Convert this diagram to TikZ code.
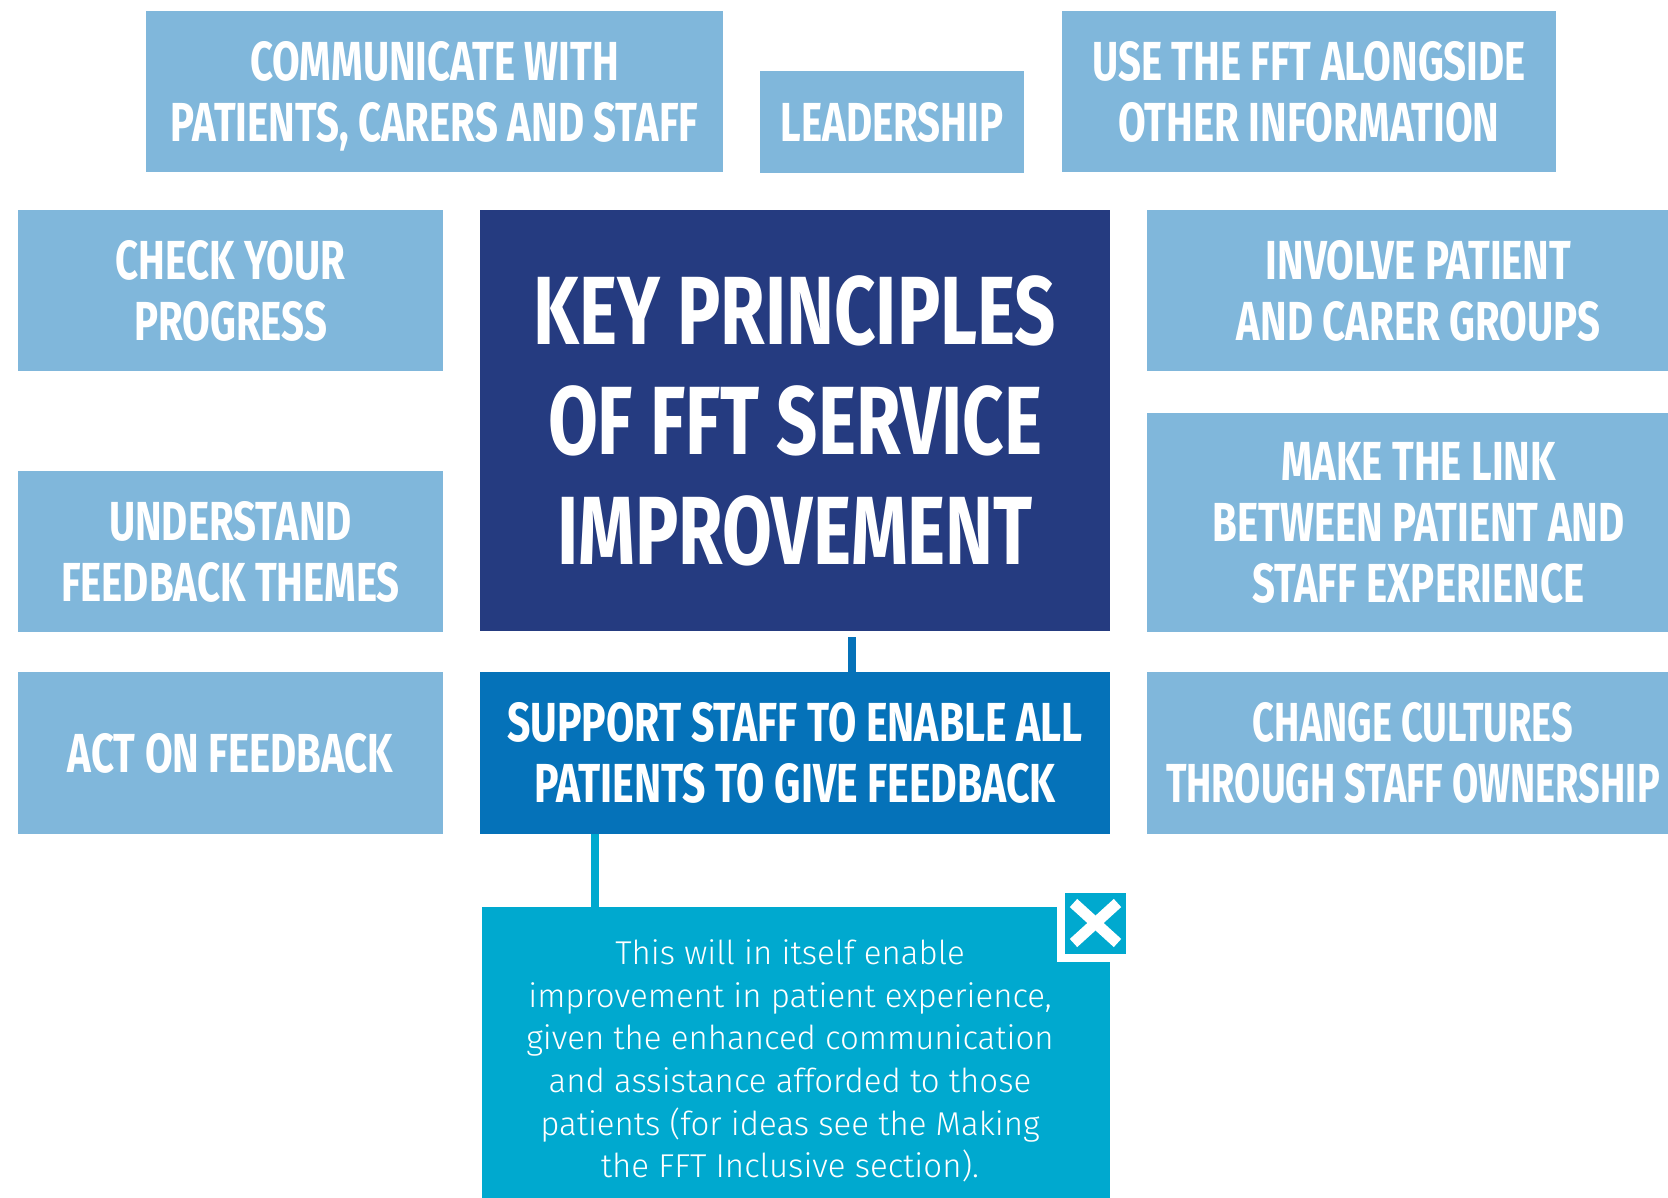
\documentclass[tikz,border=0pt]{standalone}
\usepackage{fontspec}
\newfontfamily\headfont{Fira Sans}[FakeStretch=0.73]
\newfontfamily\headfontw{Fira Sans}[FakeStretch=0.745]
\newfontfamily\headfontn{Fira Sans}[FakeStretch=0.69]
\newfontfamily\bodyfont{Fira Sans Light}
\definecolor{lightbox}{HTML}{80B7DB}
\definecolor{navybox}{HTML}{253B80}
\definecolor{midbox}{HTML}{0572B9}
\definecolor{cyanbox}{HTML}{00A9CF}
\begin{document}
\begin{tikzpicture}[x=1pt,y=-1pt,
  basebox/.style={anchor=north west, inner sep=0pt, outer sep=0pt, text=white, align=center},
  lbox/.style={basebox, fill=lightbox, font=\headfont\bfseries\fontsize{55}{61}\selectfont},
  nbox/.style={basebox, fill=lightbox, font=\headfontn\bfseries\fontsize{55}{61}\selectfont},
  keybox/.style={basebox, fill=navybox, font=\headfontw\bfseries\fontsize{97}{110}\selectfont},
  supbox/.style={basebox, fill=midbox, font=\headfontw\bfseries\fontsize{55}{61}\selectfont},
  notebox/.style={basebox, fill=cyanbox},
  notetext/.style={text=white, align=center, inner sep=0pt, font=\bodyfont\fontsize{33}{42.7}\selectfont},
  conn/.style={line width=8pt},
  closebox/.style={fill=cyanbox, draw=white, line width=8pt, minimum size=69pt, inner sep=0pt, outer sep=0pt},
  xmark/.style={draw=white, line width=11pt}
]
\clip (0,0) rectangle (1668,1197);
\fill[white] (0,0) rectangle (1668,1197);

\node[lbox, minimum width=577pt, minimum height=161pt] (comm) at (146,11) {COMMUNICATE WITH\\PATIENTS\smash{,} CARERS AND STAFF};
\node[lbox, minimum width=264pt, minimum height=102pt] (lead) at (760,71) {LEADERSHIP};
\node[lbox, minimum width=494pt, minimum height=161pt] (use) at (1062,11) {USE THE FFT ALONGSIDE\\OTHER INFORMATION};

\node[lbox, minimum width=425pt, minimum height=161pt] (check) at (18,210) {CHECK YOUR\\PROGRESS};
\node[keybox, minimum width=630pt, minimum height=421pt] (key) at (480,210) {KEY PRINCIPLES\\OF FFT SERVICE\\IMPROVEMENT};
\node[lbox, minimum width=543pt, minimum height=161pt] (involve) at (1147,210) {INVOLVE PATIENT\\AND CARER GROUPS};

\node[lbox, minimum width=425pt, minimum height=161pt] (understand) at (18,471) {UNDERSTAND\\FEEDBACK THEMES};
\node[lbox, minimum width=543pt, minimum height=219pt] (link) at (1147,413) {MAKE THE LINK\\BETWEEN PATIENT AND\\STAFF EXPERIENCE};

\node[lbox, minimum width=425pt, minimum height=162pt] (act) at (18,672) {ACT ON FEEDBACK};
\node[supbox, minimum width=630pt, minimum height=162pt] (support) at (480,672) {SUPPORT STAFF TO ENABLE ALL\\PATIENTS TO GIVE FEEDBACK};
\node[nbox, minimum width=532pt, minimum height=162pt] (change) at (1147,672) {CHANGE CULTURES\\THROUGH STAFF OWNERSHIP};

\node[notebox, minimum width=628pt, minimum height=320pt] (note) at (482,907) {};
\node[notetext] (notetxt) at (790,1061) {This will in itself enable\\improvement in patient experience,\\given the enhanced communication\\and assistance afforded to those\\patients (for ideas see the Making\\the FFT Inclusive section).};

\coordinate (cx1) at (852,0);
\coordinate (cx2) at (595,0);
\draw[conn, midbox, shorten <=6pt] (key.south -| cx1) -- (support.north -| cx1);
\draw[conn, cyanbox] (support.south -| cx2) -- (note.north -| cx2);

\node[closebox] (close) at (1095.5,923) {};
\draw[xmark] ([shift={(-22,-20)}]close.center) -- ([shift={(22,20)}]close.center);
\draw[xmark] ([shift={(-22,20)}]close.center) -- ([shift={(22,-20)}]close.center);
\end{tikzpicture}
\end{document}
